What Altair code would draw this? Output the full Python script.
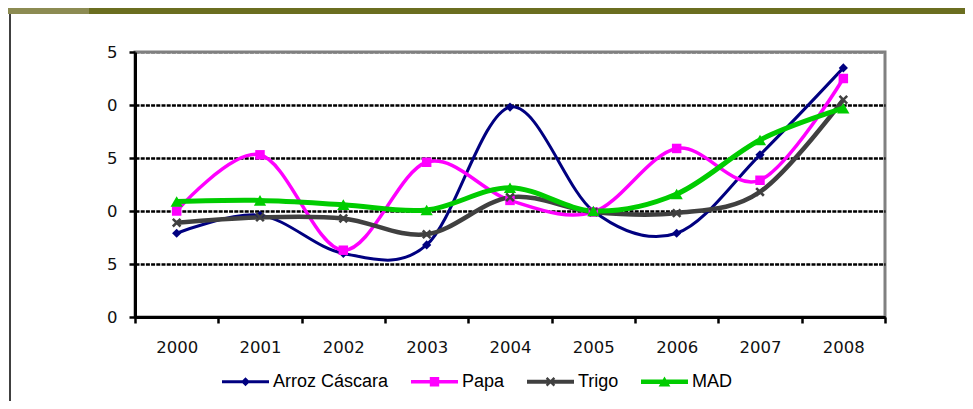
import json
import altair as alt
import pandas as pd

# ---------------- data ----------------
years = ["2000", "2001", "2002", "2003", "2004", "2005", "2006", "2007", "2008"]
series_names = ["Arroz Cáscara", "Papa", "Trigo", "MAD"]
arroz = [7.9, 9.6, 6.0, 6.8, 19.8, 10.0, 7.9, 15.3, 23.5]
papa = [10.0, 15.3, 6.3, 14.6, 11.0, 9.9, 15.9, 12.9, 22.5]
trigo = [8.9, 9.4, 9.3, 7.8, 11.3, 9.9, 9.8, 11.8, 20.5]
mad = [10.9, 11.0, 10.6, 10.1, 12.2, 10.0, 11.6, 16.7, 19.7]
y_ticks = [0, 5, 10, 15, 20, 25]
y_labels = ["0", "5", "0", "5", "0", "5"]

# ---------------- styles ----------------
colors = ["#000080", "#FF00FF", "#404040", "#00CC00"]
line_widths = [3, 3.5, 4.5, 5]
X_PATH = "M-1,-0.62L-0.62,-1L1,0.62L0.62,1Z M0.62,-1L1,-0.62L-0.62,1L-1,0.62Z"
marker_shapes = ["diamond", "square", X_PATH, "triangle-up"]
marker_sizes = [85, 90, 90, 150]

legend_paths = [
    "M-1,-0.064H1V0.064H-1Z M0,-0.19L0.19,0L0,0.19L-0.19,0Z",
    "M-1,-0.07H1V0.07H-1Z M-0.2,-0.2H0.2V0.2H-0.2Z",
    "M-1,-0.085H1V0.085H-1Z M-0.2,-0.13L-0.13,-0.2L0.2,0.13L0.13,0.2Z M0.13,-0.2L0.2,-0.13L-0.13,0.2L-0.2,0.13Z",
    "M-1,-0.1H1V0.1H-1Z M0,-0.22L0.25,0.2L-0.25,0.2Z",
]

values = [arroz, papa, trigo, mad]
rows = []
for name, vals in zip(series_names, values):
    for yr, v in zip(years, vals):
        rows.append({"year": yr, "series": name, "value": v})
df = pd.DataFrame(rows)

AXIS_FONT = "DejaVu Sans"

x_enc = alt.X(
    "year:O",
    sort=years,
    scale=alt.Scale(type="band", paddingInner=0, paddingOuter=0),
    axis=alt.Axis(
        title=None, grid=False, tickBand="extent", labelAngle=0,
        labelFont=AXIS_FONT, labelFontSize=16.5, labelColor="#111111",
        labelPadding=16, tickSize=6, tickWidth=2.5, tickColor="black",
        domainColor="black", domainWidth=3,
    ),
)
label_expr = json.dumps(y_labels) + "[datum.value / 5]"
y_enc = alt.Y(
    "value:Q",
    scale=alt.Scale(domain=[0, 25], nice=False, zero=False),
    axis=alt.Axis(
        title=None, values=y_ticks, labelExpr=label_expr,
        labelFont=AXIS_FONT, labelFontSize=16.5, labelColor="#111111",
        labelPadding=12, tickSize=6, tickWidth=2.5, tickColor="black",
        domainColor="black", domainWidth=3,
        grid=True, gridDash=[4, 1.2], gridWidth=2.5,
        gridColor={"condition": {"test": "datum.value == 25", "value": "#808080"}, "value": "black"},
    ),
)

base = alt.Chart(df)
layers = []
for name, col, lw in zip(series_names, colors, line_widths):
    layers.append(
        base.transform_filter(alt.datum.series == name)
        .mark_line(interpolate="cardinal", tension=0, strokeWidth=lw, color=col)
        .encode(x=x_enc, y=y_enc)
    )
for name, col, shp, sz in zip(series_names, colors, marker_shapes, marker_sizes):
    layers.append(
        base.transform_filter(alt.datum.series == name)
        .mark_point(shape=shp, size=sz, filled=True, opacity=1, color=col, strokeWidth=0)
        .encode(x=x_enc, y=y_enc)
    )

legend_kw = dict(
    title=None, orient="none", legendX=87, legendY=306, direction="horizontal",
    symbolSize=2209, symbolStrokeWidth=0, labelFont="Liberation Sans",
    labelFontSize=18, labelColor="black", columnPadding=22, labelOffset=4,
    padding=0, symbolOpacity=1,
)
legend_layer = (
    base.transform_filter("false")
    .mark_point(filled=True, opacity=1, strokeWidth=0)
    .encode(
        x=x_enc, y=y_enc,
        color=alt.Color("series:N", scale=alt.Scale(domain=series_names, range=colors),
                        legend=alt.Legend(**legend_kw)),
        shape=alt.Shape("series:N", scale=alt.Scale(domain=series_names, range=legend_paths),
                        legend=alt.Legend(**legend_kw)),
    )
)
layers.append(legend_layer)

# slide decorations (banner + left rule)
deco = alt.Chart(alt.Data(values=[{}]))
banner_left = deco.mark_rect(color="#8C8B52").encode(
    x=alt.value(-127), x2=alt.value(-46), y=alt.value(-44), y2=alt.value(-38))
banner_right = deco.mark_rect(color="#6B6E20").encode(
    x=alt.value(-46), x2=alt.value(838), y=alt.value(-44), y2=alt.value(-38))
left_rule = deco.mark_rule(color="black", strokeWidth=1.5).encode(
    x=alt.value(-125), y=alt.value(-38), y2=alt.value(360))

chart = (
    alt.layer(banner_left, banner_right, left_rule, *layers)
    .properties(
        width=750, height=265,
        autosize=alt.AutoSizeParams(type="none"),
        padding={"left": 127, "top": 44, "right": 80, "bottom": 84},
    )
    .configure_view(stroke="#808080", strokeWidth=3)
)

chart.save("out.html", embed_options={"renderer": "svg", "actions": False})
